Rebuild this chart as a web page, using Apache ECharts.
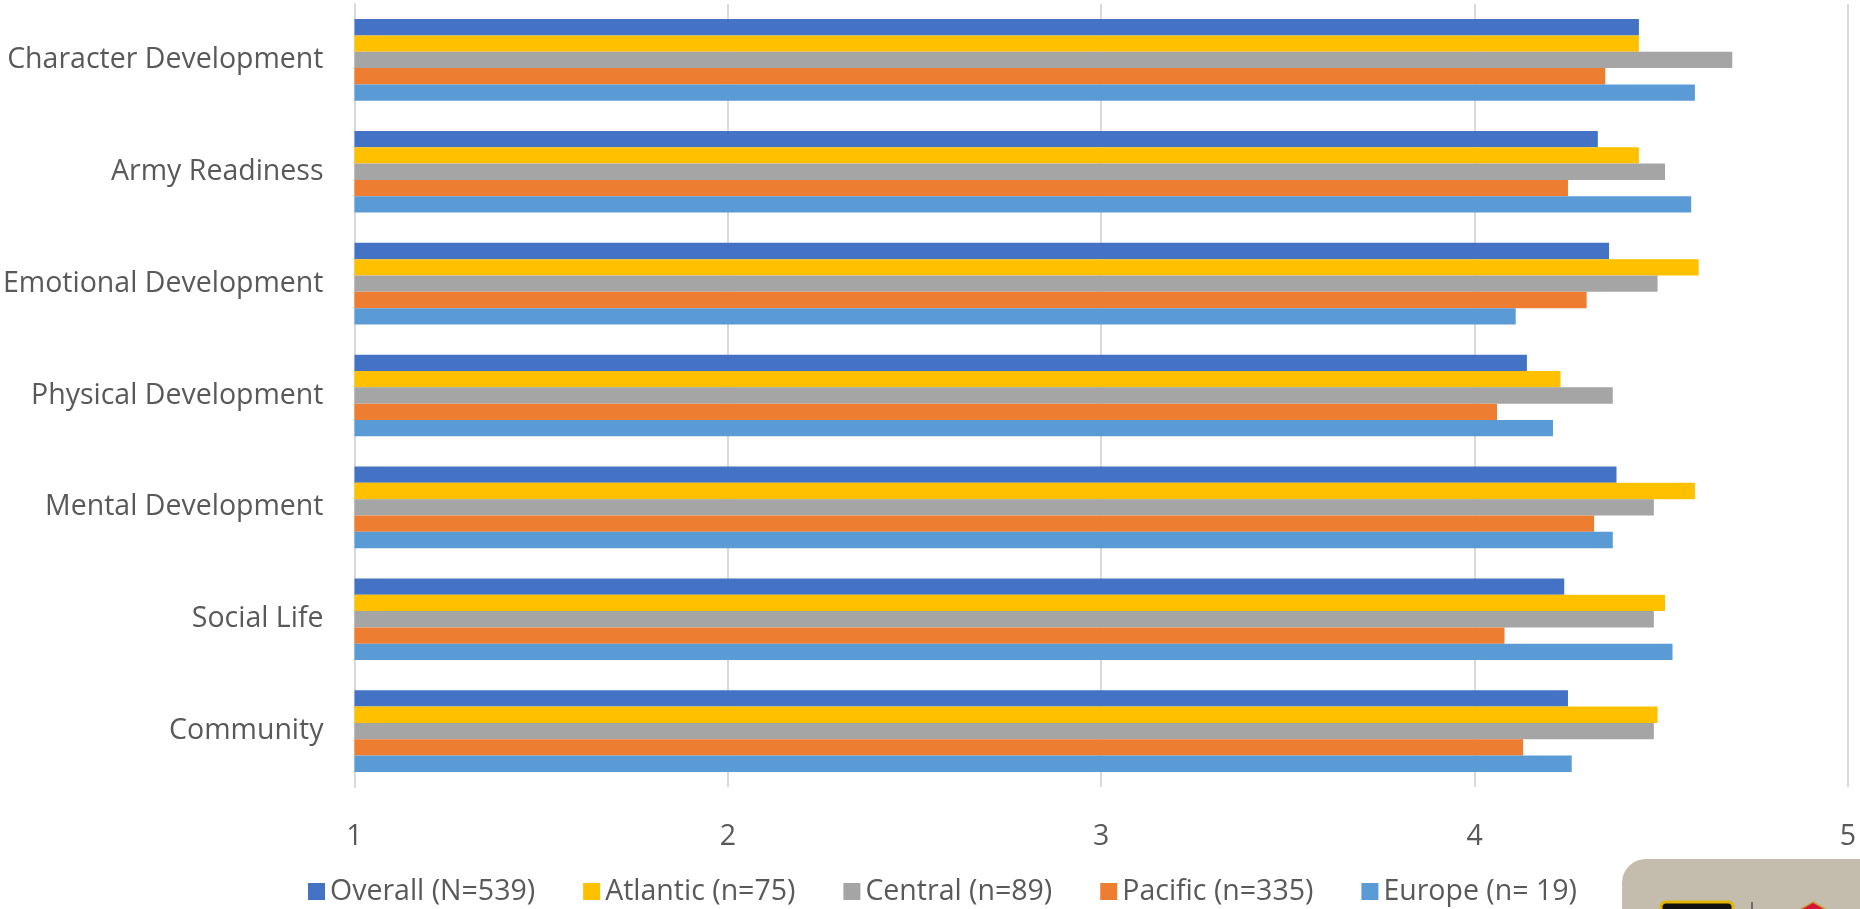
<!DOCTYPE html>
<html>
<head>
<meta charset="utf-8">
<script src="https://cdn.jsdelivr.net/npm/echarts@6/dist/echarts.min.js"></script>
<style>
  html, body { margin: 0; padding: 0; background: #ffffff; }
  #chart { width: 1860px; height: 909px; }
</style>
</head>
<body>
<div id="chart"></div>
<script>
// Survey dimensions, top to bottom
const categories = [
  'Character Development',
  'Army Readiness',
  'Emotional Development',
  'Physical Development',
  'Mental Development',
  'Social Life',
  'Community'
];

// Mean ratings (1–5 scale) per group
const overall  = [4.44, 4.33, 4.36, 4.14, 4.38, 4.24, 4.25];
const atlantic = [4.44, 4.44, 4.60, 4.23, 4.59, 4.51, 4.49];
const central  = [4.69, 4.51, 4.49, 4.37, 4.48, 4.48, 4.48];
const pacific  = [4.35, 4.25, 4.30, 4.06, 4.32, 4.08, 4.13];
const europe   = [4.59, 4.58, 4.11, 4.21, 4.37, 4.53, 4.26];

const seriesNames = [
  'Overall (N=539)',
  'Atlantic (n=75)',
  'Central (n=89)',
  'Pacific (n=335)',
  'Europe (n= 19)'
];
const seriesData = [overall, atlantic, central, pacific, europe];
const colors = ['#4472C4', '#FFC000', '#A5A5A5', '#ED7D31', '#5B9BD5'];

const FONT = 'Open Sans';
const TEXT = '#595959';
const SIZE = 28.5;

const chart = echarts.init(document.getElementById('chart'), null, { renderer: 'canvas' });

chart.setOption({
  animation: false,
  backgroundColor: '#ffffff',
  color: colors,
  grid: { left: 352, right: 12, top: 4, bottom: 122, containLabel: false },
  xAxis: {
    type: 'value',
    min: 1,
    max: 5,
    interval: 1,
    axisLine: { show: false },
    axisTick: { show: false },
    splitLine: { show: true, lineStyle: { color: '#d9d9d9', width: 2 } },
    axisLabel: { color: TEXT, fontFamily: FONT, fontSize: SIZE, margin: 35 }
  },
  yAxis: {
    type: 'category',
    inverse: true,
    data: categories,
    axisLine: { show: true, lineStyle: { color: '#d9d9d9', width: 2 } },
    axisTick: { show: false },
    axisLabel: { color: TEXT, fontFamily: FONT, fontSize: SIZE, margin: 31 }
  },
  legend: {
    top: 872,
    left: 303,
    itemWidth: 17,
    itemHeight: 17,
    itemGap: 48,
    icon: 'rect',
    textStyle: { color: TEXT, fontFamily: FONT, fontSize: SIZE, padding: [0, 0, 0, 0] },
    data: seriesNames
  },
  series: seriesNames.map((name, i) => ({
    name: name,
    type: 'bar',
    data: seriesData[i],
    barGap: '0%',
    barCategoryGap: '27%',
    itemStyle: { color: colors[i] }
  })),
  graphic: [
    // emblem panel in the lower-right corner
    {
      type: 'rect',
      shape: { x: 1622, y: 859, width: 300, height: 120, r: 24 },
      style: { fill: '#C4BDAE' },
      silent: true
    },
    {
      type: 'rect',
      shape: { x: 1661, y: 902, width: 72, height: 30, r: 5 },
      style: { fill: '#111111', stroke: '#E3B400', lineWidth: 3 },
      silent: true
    },
    {
      type: 'line',
      shape: { x1: 1752, y1: 902, x2: 1752, y2: 912 },
      style: { stroke: '#555555', lineWidth: 1.5 },
      silent: true
    },
    {
      type: 'polygon',
      shape: { points: [[1813, 902], [1830, 912], [1796, 912]] },
      style: { fill: '#D4153A', stroke: '#C99A2E', lineWidth: 1.5 },
      silent: true
    }
  ]
});
</script>
</body>
</html>
